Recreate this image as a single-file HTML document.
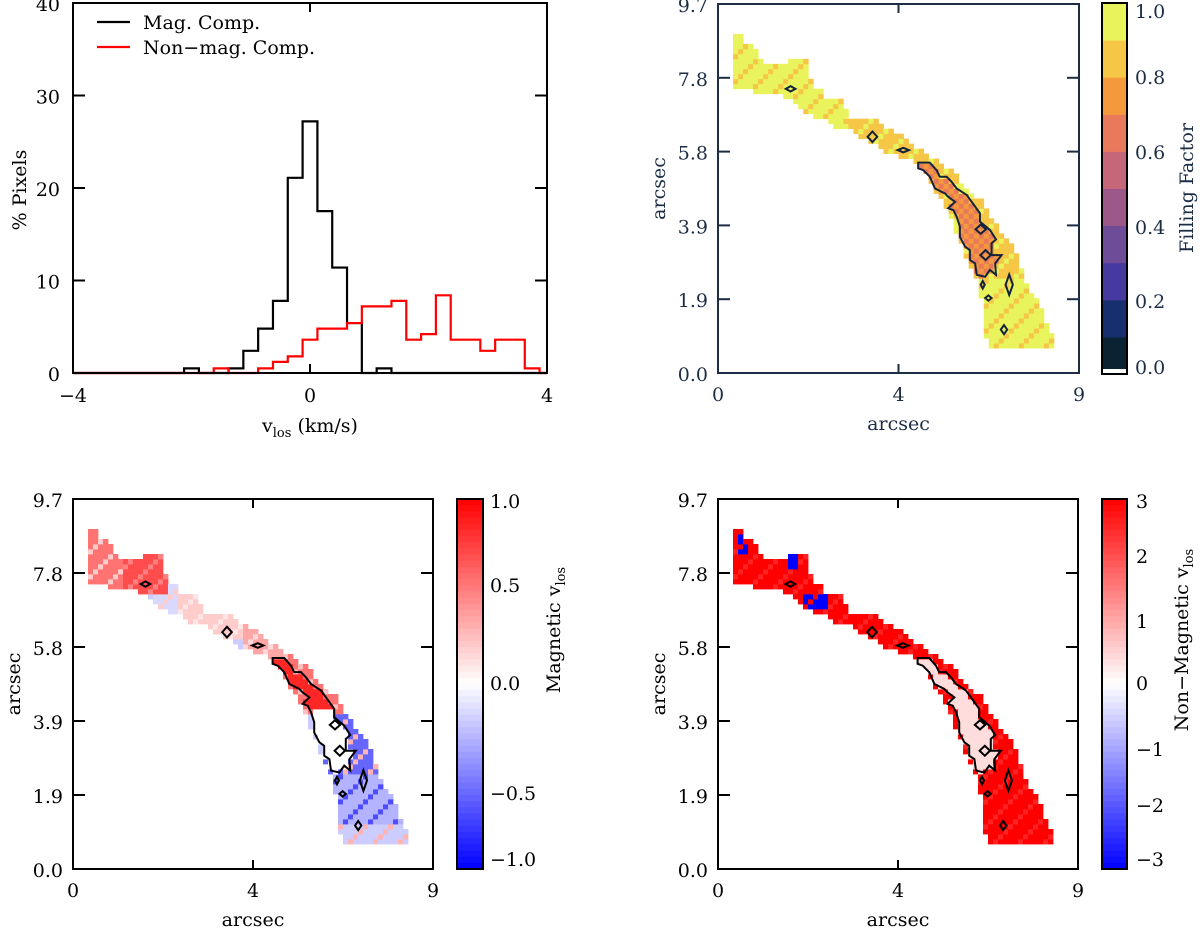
<!DOCTYPE html>
<html><head><meta charset="utf-8"><style>
html,body{margin:0;padding:0;background:#fff;}
svg text{font-family:"DejaVu Serif","Liberation Serif",serif;}
</style></head><body>
<svg id="fig" width="1200" height="931" viewBox="0 0 1200 931" xmlns="http://www.w3.org/2000/svg">
<g id="hist"></g>
<g id="mapFF"></g>
<g id="mapMag"></g>
<g id="mapNon"></g>
</svg>
<script>
// ---------- histogram data ----------
const magCenters = [-2.0,-1.75,-1.5,-1.25,-1.0,-0.75,-0.5,-0.25,0,0.25,0.5,0.75,1.0,1.25];
const magPct = [0.5,0,0,0.5,2.4,4.8,7.8,21.1,27.2,17.5,11.4,5.4,0,0.5];
const nonCenters = [-1.5,-1.25,-1.0,-0.75,-0.5,-0.25,0,0.25,0.5,0.75,1.0,1.25,1.5,1.75,2.0,2.25,2.5,2.75,3.0,3.25,3.5,3.75];
const nonPct = [0.5,0,0,0.5,1.2,1.8,3.6,4.8,4.8,5.4,7.2,7.2,7.8,3.6,4.2,8.4,3.6,3.6,2.4,3.6,3.6,0.5];
const binWidth = 0.25;
const histXTicks = [-4,0,4];
const histYTicks = [0,10,20,30,40];

// ---------- map data (arcsec) ----------
const outlineX = [0.39,0.62,0.62,0.79,0.92,1.04,1.16,1.81,1.81,2.30,2.30,2.33,2.58,2.70,3.04,3.20,3.20,3.58,4.08,4.33,4.62,4.87,5.12,5.28,5.53,5.91,6.28,6.53,6.78,7.03,7.20,7.40,7.53,7.70,7.86,8.03,8.19,8.34,8.34,6.70,6.68,6.57,6.57,6.45,6.45,6.32,6.20,6.03,5.87,5.70,5.45,5.20,5.03,4.87,4.53,4.20,3.95,3.70,3.45,3.29,2.95,2.70,2.50,2.20,2.08,1.79,1.54,1.16,0.87,0.52,0.39];
const outlineY = [8.90,8.90,8.76,8.61,8.48,8.35,8.09,8.09,8.22,8.22,7.95,7.56,7.43,7.17,7.17,6.99,6.73,6.73,6.60,6.34,6.21,5.94,5.81,5.68,5.51,5.24,4.72,4.59,4.15,3.76,3.50,3.23,2.80,2.27,2.10,1.75,1.35,1.05,0.68,0.68,1.05,1.49,1.92,2.19,2.45,2.80,2.97,3.50,3.85,4.37,4.72,5.16,5.42,5.59,5.68,5.81,6.03,6.12,6.29,6.47,6.47,6.64,6.73,6.77,6.99,7.17,7.30,7.30,7.43,7.43,7.56];
const contourX = [4.99,5.28,5.45,5.53,5.70,5.82,5.95,6.20,6.53,6.53,6.78,6.93,6.82,6.82,7.07,6.91,6.93,6.78,6.66,6.45,6.41,6.28,6.28,6.16,6.03,6.03,5.95,5.87,5.74,5.91,5.74,5.66,5.41,5.28,5.12,4.99];
const contourY = [5.53,5.53,5.33,5.16,5.16,5.03,4.85,4.68,4.20,3.98,3.76,3.51,3.41,3.10,3.10,2.88,2.58,2.71,2.53,2.58,2.88,2.97,3.23,3.32,3.58,3.85,4.11,4.28,4.33,4.50,4.63,4.72,4.85,5.16,5.33,5.38];
const smallCX = [1.81,3.85,4.62,6.55,6.67,7.26,6.74,7.13,6.60];
const smallCY = [7.47,6.21,5.86,3.78,3.10,2.32,1.97,1.14,2.32];
const smallW  = [0.12,0.12,0.14,0.13,0.13,0.09,0.08,0.08,0.05];
const smallH  = [0.07,0.14,0.06,0.12,0.13,0.27,0.07,0.12,0.10];
// value zones [x0,x1,y0,y1,value,altValue]
const ffZones = [[0,3.3,6.5,9.7,1.0,0.88],[3.3,6.0,4.0,6.9,0.88,1.0],[6.0,9,2.5,4.6,0.88,1.0],[0,9,0,2.5,1.0,0.85]];
const ffInside = 0.62, ffInsideAlt = 0.72;
const magZones = [[0,1.2,7.3,9.7,0.55,0.2],[1.2,2.35,7.2,8.4,0.7,0.5],[2.0,2.6,6.6,7.6,-0.15,0.2],[2.6,4.2,6.0,7.2,0.2,0.1],[4.2,5.2,5.2,6.5,0.35,0.15],[5.2,7.2,4.0,5.8,0.55,0.25],[6.3,8.4,2.5,4.0,-0.6,0.3],[0,9,1.2,2.5,-0.3,-0.7],[0,9,0,1.2,-0.2,0.3]];
const magInsideTop = 0.85, magInsideBottom = 0.0;
const nonZones = [[0.5,0.75,8.3,8.8,-3,3],[1.7,2.05,7.8,8.3,-3,-3],[2.1,2.7,6.8,7.15,-3,3],[0,9,0,9.7,3,2.6]];
const nonInside = 0.4;
const mapXTicks = [0,4.5,9];
const mapXLabels = ["0","4","9"];
const mapYTicks = [0,1.94,3.88,5.82,7.76,9.7];
const mapYLabels = ["0.0","1.9","3.9","5.8","7.8","9.7"];
const ffBarVals = [1.0,0.8,0.6,0.4,0.2,0.0];
const ffPalette = ["#0b2233","#172f6e","#463aa0","#6e4c98","#9b5888","#c56679","#e8795a","#f49a3c","#f6c646","#e9f35c"];
const magBarVals = [1.0,0.5,0.0,-0.5,-1.0];
const nonBarVals = [3,2,1,0,-1,-2,-3];

const NS = "http://www.w3.org/2000/svg";
const FS = 19;
function mk(parent, tag, attrs){const e=document.createElementNS(NS,tag);for(const k in attrs)e.setAttribute(k,attrs[k]);parent.appendChild(e);return e;}
function txt(parent,x,y,s,size,anchor,fill,rot){const t=mk(parent,'text',{x:x,y:y,'font-size':size,'text-anchor':anchor||'middle',fill:fill||'#000'});if(rot)t.setAttribute('transform','rotate(-90 '+x+' '+y+')');t.textContent=s;return t;}
function inPoly(px,py,xs,ys){let c=false;for(let i=0,j=xs.length-1;i<xs.length;j=i++){if(((ys[i]>py)!=(ys[j]>py))&&(px<(xs[j]-xs[i])*(py-ys[i])/(ys[j]-ys[i])+xs[i]))c=!c;}return c;}
function alt(i,j){return (i*7+j*3)%5===0;}

// ---------- histogram ----------
(function(){
  const g=document.getElementById('hist');
  const L=73,R=547,T=3,B=373;
  const sx=v=>L+(v+4)/8*(R-L), sy=v=>B-v/40*(B-T);
  function stepPath(cs,vs){let d='M'+sx(-4)+','+sy(0)+' L'+sx(cs[0]-binWidth/2)+','+sy(0);
    for(let i=0;i<cs.length;i++){const a=sx(cs[i]-binWidth/2),b=sx(cs[i]+binWidth/2),y=sy(vs[i]);d+=' L'+a+','+y+' L'+b+','+y;}
    d+=' L'+sx(cs[cs.length-1]+binWidth/2)+','+sy(0)+' L'+sx(4)+','+sy(0);return d;}
  const pm=mk(g,'path',{d:stepPath(magCenters,magPct),fill:'none',stroke:'#000','stroke-width':2.2});
  
  
  const pn=mk(g,'path',{d:stepPath(nonCenters,nonPct),fill:'none',stroke:'#ff0000','stroke-width':2.2});
  
  
  const fr=mk(g,'rect',{x:L,y:T,width:R-L,height:B-T,fill:'none',stroke:'#000','stroke-width':2});
  
  
  histXTicks.forEach(v=>{const x=sx(v);mk(g,'line',{x1:x,x2:x,y1:B,y2:B-9,stroke:'#000','stroke-width':2});mk(g,'line',{x1:x,x2:x,y1:T,y2:T+9,stroke:'#000','stroke-width':2});
    const t=txt(g,x,402,v<0?'\u2212'+(-v):String(v),FS);});
  histYTicks.forEach(v=>{const y=sy(v);mk(g,'line',{x1:L,x2:L+12,y1:y,y2:y,stroke:'#000','stroke-width':2});mk(g,'line',{x1:R,x2:R-12,y1:y,y2:y,stroke:'#000','stroke-width':2});
    const t=txt(g,60,y+8,String(v),FS,'end');});
  const yt=txt(g,26,190,'% Pixels',FS,'middle','#000',true);
  const xt=mk(g,'text',{x:310,y:432,'font-size':FS,'text-anchor':'middle'});xt.innerHTML='v<tspan font-size="13" dy="5">los</tspan><tspan dy="-5"> (km/s)</tspan>';
  
  const l1=mk(g,'line',{x1:97,x2:130,y1:22,y2:22,stroke:'#000','stroke-width':2.2});
  const t1=txt(g,143,29,'Mag. Comp.',FS,'start');
  const l2=mk(g,'line',{x1:97,x2:130,y1:47,y2:47,stroke:'#ff0000','stroke-width':2.2});
  const t2=txt(g,143,54,'Non\u2212mag. Comp.',FS,'start');
})();

// ---------- maps ----------
function bwr(v,lim){let t=Math.max(-1,Math.min(1,v/lim));let r,g,b;
  if(t>=0){r=255;g=Math.round(255*(1-t));b=g;}else{b=255;r=Math.round(255*(1+t));g=r;}
  return 'rgb('+r+','+g+','+b+')';}
function ffColor(v){let i=Math.min(9,Math.max(0,Math.floor(v*10-1e-9)));return ffPalette[i];}
function zoneVal(zones,x,y,i,j){for(const z of zones){if(x>=z[0]&&x<z[1]&&y>=z[2]&&y<z[3])return alt(i,j)?z[5]:z[4];}return zones[zones.length-1][4];}

function drawMap(id,L,R,T,B,valueFn,colorFn,axisColor,contourColor){
  const g=document.getElementById(id);
  const sx=v=>L+v/9*(R-L), sy=v=>B-v/9.7*(B-T);
  const nx=72,ny=74,dx=9/nx,dy=9.7/ny;
  const cells=mk(g,'g',{});
  
  
  for(let i=0;i<nx;i++)for(let j=0;j<ny;j++){
    const cx=(i+0.5)*dx, cy=(j+0.5)*dy;
    if(!inPoly(cx,cy,outlineX,outlineY))continue;
    const inside=inPoly(cx,cy,contourX,contourY);
    const v=valueFn(cx,cy,i,j,inside);
    mk(cells,'rect',{x:sx(i*dx).toFixed(2),y:sy((j+1)*dy).toFixed(2),width:(sx(dx)-sx(0)+0.4).toFixed(2),height:(sy(0)-sy(dy)+0.4).toFixed(2),fill:colorFn(v)});
  }
  let d='M'+contourX.map((x,k)=>sx(x)+','+sy(contourY[k])).join(' L')+'Z';
  const c=mk(g,'path',{d:d,fill:'none',stroke:contourColor,'stroke-width':2});
  
  
  smallCX.forEach((x,k)=>{const e=mk(g,'path',{d:'M'+sx(x-smallW[k])+','+sy(smallCY[k])+' L'+sx(x)+','+sy(smallCY[k]+smallH[k])+' L'+sx(x+smallW[k])+','+sy(smallCY[k])+' L'+sx(x)+','+sy(smallCY[k]-smallH[k])+'Z',fill:'none',stroke:contourColor,'stroke-width':2});
    
    });
  const fr=mk(g,'rect',{x:L,y:T,width:R-L,height:B-T,fill:'none',stroke:axisColor,'stroke-width':2});
  
  
  mapXTicks.forEach((v,k)=>{const x=sx(v);mk(g,'line',{x1:x,x2:x,y1:B,y2:B-9,stroke:axisColor,'stroke-width':2});mk(g,'line',{x1:x,x2:x,y1:T,y2:T+9,stroke:axisColor,'stroke-width':2});
    const t=txt(g,x,B+28,mapXLabels[k],FS,'middle',axisColor);});
  mapYTicks.forEach((v,k)=>{const y=sy(v);mk(g,'line',{x1:L,x2:L+12,y1:y,y2:y,stroke:axisColor,'stroke-width':2});mk(g,'line',{x1:R,x2:R-12,y1:y,y2:y,stroke:axisColor,'stroke-width':2});
    const t=txt(g,L-10,y+8,mapYLabels[k],FS,'end',axisColor);});
  const xt=txt(g,(L+R)/2,B+57,'arcsec',FS,'middle',axisColor);
  const yt=txt(g,L-53,(T+B)/2,'arcsec',FS,'middle',axisColor,true);
  return g;
}

// Filling factor map
(function(){
  const ac='#1c2d44';
  const g=drawMap('mapFF',718,1079,4,373,(x,y,i,j,inside)=>inside?((i+j)%2?ffInside:ffInsideAlt):zoneVal(ffZones,x,y,i,j),ffColor,ac,'#13233a');
  const bL=1102,bR=1127,bT=3,bB=374;
  const by=v=>bB-v*(bB-bT);
  for(let k=0;k<10;k++){const r=mk(g,'rect',{x:bL,y:by((k+1)/10),width:bR-bL,height:by(k/10)-by((k+1)/10)+0.5,fill:ffPalette[k]});}
  mk(g,'rect',{x:bL,y:bB-5,width:bR-bL,height:5,fill:'#fff'});
  const f=mk(g,'rect',{x:bL,y:bT,width:bR-bL,height:bB-bT,fill:'none',stroke:'#000','stroke-width':2});
  const ly=[18,84,159,234,308,374];
  ffBarVals.forEach((v,k)=>{const t=txt(g,1135,ly[k],v.toFixed(1),FS,'start',ac);});
  const tt=txt(g,1193,188,'Filling Factor',FS,'middle',ac,true);
})();

function bwrBar(g,bL,bR,bT,bB,lim,vals,ly,labelX,titleX,titleY,title){
  const n=60;
  for(let k=0;k<n;k++){const v=lim-(k+0.5)*(2*lim/n);const r=mk(g,'rect',{x:bL,y:bT+k*(bB-bT)/n,width:bR-bL,height:(bB-bT)/n+0.5,fill:bwr(v,lim)});}
  const f=mk(g,'rect',{x:bL,y:bT,width:bR-bL,height:bB-bT,fill:'none',stroke:'#000','stroke-width':2});
  vals.forEach((v,k)=>{const s=v<0?'\u2212'+(lim>1?String(-v):(-v).toFixed(1)):(lim>1?String(v):v.toFixed(1));const t=txt(g,labelX,ly[k],s,FS,'start');});
  const tt=mk(g,'text',{x:titleX,y:titleY,'font-size':FS,'text-anchor':'middle',transform:'rotate(-90 '+titleX+' '+titleY+')'});
  tt.innerHTML=title+' v<tspan font-size="13" dy="5">los</tspan>';
  
  
}

// Magnetic vlos map
(function(){
  const g=drawMap('mapMag',73,433,499,869,(x,y,i,j,inside)=>inside?(y>4.2?magInsideTop:magInsideBottom):zoneVal(magZones,x,y,i,j),v=>bwr(v,1),'#000','#000');
  bwrBar(g,457,483,499,869,1,magBarVals,[508,592,690,800,866],490,560,630,'Magnetic');
})();

// Non-magnetic vlos map
(function(){
  const g=drawMap('mapNon',718,1078,499,869,(x,y,i,j,inside)=>inside?nonInside:zoneVal(nonZones,x,y,i,j),v=>bwr(v,3),'#000','#000');
  bwrBar(g,1102,1127,499,869,3,nonBarVals,[508,563,628,690,756,812,866],1136,1188,640,'Non\u2212Magnetic');
})();
</script>
</body></html>
